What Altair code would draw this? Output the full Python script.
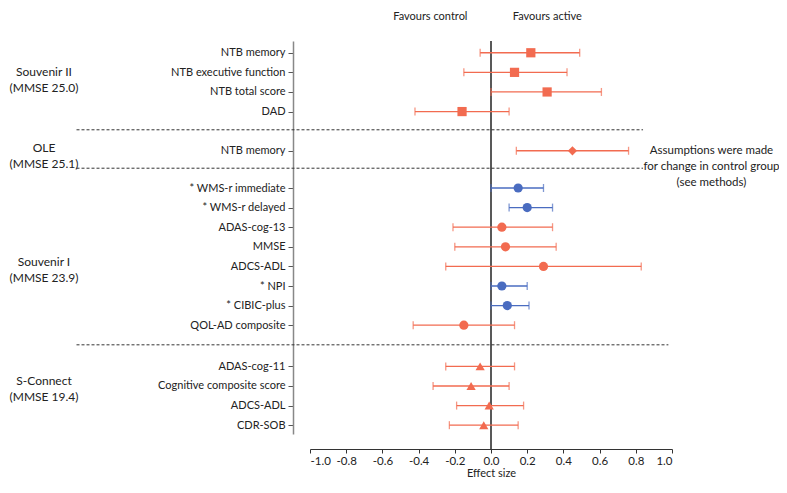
import json
import altair as alt
import pandas as pd

# ---- data -------------------------------------------------------------
studies = ["Souvenir II"] * 4 + ["OLE"] + ["Souvenir I"] * 8 + ["S-Connect"] * 4
outcomes = [
    "NTB memory", "NTB executive function", "NTB total score", "DAD",
    "NTB memory",
    "* WMS-r immediate", "* WMS-r delayed", "ADAS-cog-13", "MMSE", "ADCS-ADL",
    "* NPI", "* CIBIC-plus", "QOL-AD composite",
    "ADAS-cog-11", "Cognitive composite score", "ADCS-ADL", "CDR-SOB",
]
effect = [0.22, 0.13, 0.31, -0.16, 0.45, 0.15, 0.20, 0.06, 0.08, 0.29, 0.06, 0.09, -0.15,
          -0.06, -0.11, -0.01, -0.04]
lower = [-0.06, -0.15, 0.0, -0.42, 0.14, 0.0, 0.10, -0.21, -0.20, -0.25, 0.0, 0.0, -0.43,
         -0.25, -0.32, -0.19, -0.23]
upper = [0.49, 0.42, 0.61, 0.10, 0.76, 0.29, 0.34, 0.34, 0.36, 0.83, 0.20, 0.21, 0.13,
         0.13, 0.10, 0.18, 0.15]
row_pos = [0, 1, 2, 3, 5, 6.9, 7.9, 8.9, 9.9, 10.9, 11.9, 12.9, 13.9, 16, 17, 18, 19]

group_labels = ["Souvenir  II\n(MMSE 25.0)", "OLE\n(MMSE 25.1)",
                "Souvenir  I\n(MMSE 23.9)", "S-Connect\n(MMSE 19.4)"]
group_pos = [0.97, 4.85, 10.66, 16.73]

separator_pos = [3.93, 5.89, 14.9]
separator_from = [-2.29, -2.29, -2.29]
separator_to = [0.84, 0.84, 0.98]

x_ticks = [-1.0, -0.8, -0.6, -0.4, -0.2, 0.0, 0.2, 0.4, 0.6, 0.8, 1.0]

note_lines = ["Assumptions were made", "for change in control group", "(see methods)"]
note_x = 1.218
note_pos = 5

# ---- frames -----------------------------------------------------------
df = pd.DataFrame({"study": studies, "outcome": outcomes, "effect": effect,
                   "lower": lower, "upper": upper, "pos": row_pos})
df["kind"] = ["asterisk" if o.startswith("*") else "plain" for o in outcomes]

groups = pd.DataFrame({"label": group_labels, "pos": group_pos})
seps = pd.DataFrame({"pos": separator_pos, "x0": separator_from, "x1": separator_to})
one = pd.DataFrame({"note": ["\n".join(note_lines)]})

W, H = 362, 393
FONT = "Lato"
ORANGE, ORANGE_LINE = "#EE4B26", "#F26B50"
BLUE, BLUE_LINE = "#1A4DA1", "#4A6CC0"

xs = alt.Scale(domain=[-1, 1], nice=False, zero=False)
ys = alt.Scale(domain=[-0.6, 19.45], reverse=True, nice=False, zero=False)

label_expr = f"{json.dumps(outcomes)}[indexof({json.dumps(row_pos)}, datum.value)]"
x_axis = alt.Axis(values=x_ticks,
                  labelExpr="(datum.value < -0.001 ? '-' : '') + format(abs(datum.value), '.1f')",
                  title="Effect size", offset=15, grid=False,
                  tickSize=4, labelPadding=2, titlePadding=1, domainColor="#333",
                  tickColor="#333", labelFontSize=11.5, titleFontSize=11,
                  titleFontWeight="normal", labelColor="#222", titleColor="#222")
y_axis = alt.Axis(values=row_pos, labelExpr=label_expr, title=None, offset=17, grid=False,
                  tickSize=5, labelPadding=3, domainColor="#888", domainWidth=1.5,
                  tickColor="#555", labelFontSize=11, labelColor="#222")

X = lambda f: alt.X(f, type="quantitative", scale=xs, axis=x_axis)
Y = lambda f: alt.Y(f, type="quantitative", scale=ys, axis=y_axis)
XD = lambda v: alt.X(datum=v, type="quantitative", scale=xs, axis=x_axis)
YD = lambda v: alt.Y(datum=v, type="quantitative", scale=ys, axis=y_axis)

line_color = alt.Color("kind:N", scale=alt.Scale(domain=["plain", "asterisk"],
                                                 range=[ORANGE_LINE, BLUE_LINE]), legend=None)
mark_color = alt.Color("kind:N", scale=alt.Scale(domain=["plain", "asterisk"],
                                                 range=[ORANGE, BLUE]), legend=None)

base = alt.Chart(df)
ci = base.mark_rule(strokeWidth=1.3).encode(x=X("lower"), x2="upper", y=Y("pos"), color=line_color)
cap_lo = base.mark_tick(orient="vertical", size=8, thickness=1.3).encode(
    x=X("lower"), y=Y("pos"), color=line_color)
cap_hi = base.mark_tick(orient="vertical", size=8, thickness=1.3).encode(
    x=X("upper"), y=Y("pos"), color=line_color)
pts = base.mark_point(filled=True, size=85, opacity=1).encode(
    x=X("effect"), y=Y("pos"), color=mark_color,
    shape=alt.Shape("study:N", scale=alt.Scale(
        domain=["Souvenir II", "OLE", "Souvenir I", "S-Connect"],
        range=["square", "diamond", "circle", "triangle-up"]), legend=None))

zero = alt.Chart(one).mark_rule(color="#222", strokeWidth=1.5).encode(
    x=XD(0), y=alt.value(0), y2=alt.value(H + 15))

sep = alt.Chart(seps).mark_rule(color="#333", strokeWidth=1, strokeDash=[3, 2]).encode(
    x=X("x0"), x2="x1", y=Y("pos"))

grp = alt.Chart(groups).mark_text(align="center", baseline="middle", lineBreak="\n",
                                  fontSize=12, font=FONT, color="#222", lineHeight=16).encode(
    x=alt.value(-266), y=Y("pos"), text="label:N")

note = alt.Chart(one).mark_text(align="center", baseline="middle", lineBreak="\n",
                                fontSize=11.5, font=FONT, color="#222", lineHeight=16).encode(
    x=XD(note_x), y=YD(note_pos), text="note:N")

fav_c = alt.Chart(one).mark_text(align="right", baseline="middle", fontSize=11, font=FONT,
                                 color="#222", text="Favours control").encode(
    x=XD(-0.13), y=alt.value(-24))
fav_a = alt.Chart(one).mark_text(align="left", baseline="middle", fontSize=11, font=FONT,
                                 color="#222", text="Favours active").encode(
    x=XD(0.12), y=alt.value(-24))

chart = alt.layer(sep, zero, ci, cap_lo, cap_hi, pts, grp, note, fav_c, fav_a).properties(
    width=W, height=H,
    autosize=alt.AutoSizeParams(type="none"),
    padding={"left": 302, "top": 33, "right": 107, "bottom": 45},
).configure_view(stroke=None).configure_axis(labelFont=FONT, titleFont=FONT)

chart.save("out.html", embed_options={"renderer": "svg", "actions": False})
